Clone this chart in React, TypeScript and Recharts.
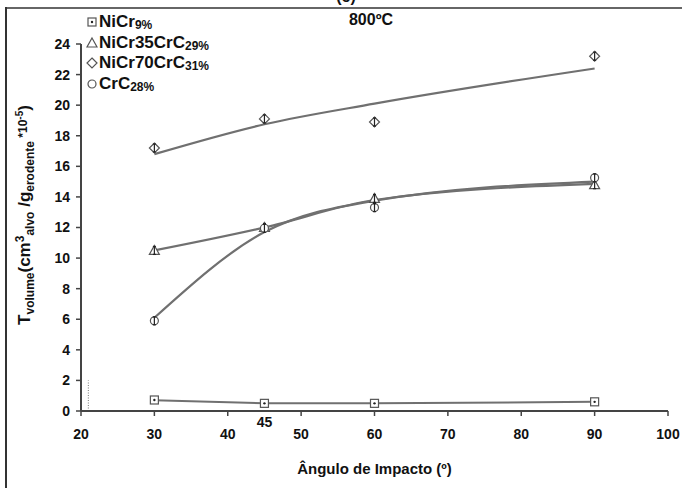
import React from 'react';
import { ComposedChart, Line, XAxis, YAxis, Legend, ReferenceLine } from 'recharts';

const angles = [30, 45, 60, 90];
const nicr9 = [0.72, 0.5, 0.5, 0.6];
const nicr9Fit = [0.7, 0.5, 0.5, 0.6];
const nicr35 = [10.5, 12.0, 13.9, 14.8];
const nicr35Fit = [10.5, 12.0, 13.8, 14.85];
const nicr70 = [17.2, 19.1, 18.9, 23.2];
const nicr70Fit = [16.8, 18.75, 20.1, 22.4];
const crc28 = [5.9, 11.95, 13.3, 15.25];
const crc28Fit = [6.1, 11.7, 13.75, 15.0];
const xTicks = [20, 30, 40, 45, 50, 60, 70, 80, 90, 100];
const yTicks = [0, 2, 4, 6, 8, 10, 12, 14, 16, 18, 20, 22, 24];
const legendItems = [
  { key: 'sq', main: 'NiCr', sub: '9%' },
  { key: 'tri', main: 'NiCr35CrC', sub: '29%' },
  { key: 'dia', main: 'NiCr70CrC', sub: '31%' },
  { key: 'cir', main: 'CrC', sub: '28%' },
];

const data = angles.map((a, i) => ({
  x: a,
  nicr9: nicr9[i],
  nicr9Fit: nicr9Fit[i],
  nicr35: nicr35[i],
  nicr35Fit: nicr35Fit[i],
  nicr70: nicr70[i],
  nicr70Fit: nicr70Fit[i],
  crc28: crc28[i],
  crc28Fit: crc28Fit[i],
}));

const FONT = '"Liberation Sans", Arial, sans-serif';
const LINE = '#707070';
const MARK = '#555';

function Marker({ kind, cx, cy, bar }: { kind: string; cx: number; cy: number; bar?: boolean }) {
  const s = 4;
  let shape: React.ReactNode = null;
  if (kind === 'sq') {
    shape = (
      <g>
        <rect x={cx - s} y={cy - s} width={2 * s} height={2 * s} fill="#fff" stroke={MARK} strokeWidth={1.2} />
        <circle cx={cx} cy={cy} r={1.2} fill="#222" />
      </g>
    );
  } else if (kind === 'tri') {
    shape = (
      <polygon
        points={`${cx},${cy - s - 1} ${cx + s + 1},${cy + s} ${cx - s - 1},${cy + s}`}
        fill="#fff"
        stroke={MARK}
        strokeWidth={1.2}
      />
    );
  } else if (kind === 'dia') {
    shape = (
      <polygon
        points={`${cx},${cy - s - 1} ${cx + s + 1},${cy} ${cx},${cy + s + 1} ${cx - s - 1},${cy}`}
        fill="#fff"
        stroke={MARK}
        strokeWidth={1.2}
      />
    );
  } else {
    shape = <circle cx={cx} cy={cy} r={s} fill="#fff" stroke={MARK} strokeWidth={1.2} />;
  }
  return (
    <g>
      {shape}
      {bar && kind !== 'sq' ? (
        <g stroke="#222" strokeWidth={1.2}>
          <line x1={cx} y1={cy - 4} x2={cx} y2={cy + 4} />
          <line x1={cx - 1.5} y1={cy - 4} x2={cx + 1.5} y2={cy - 4} />
          <line x1={cx - 1.5} y1={cy + 4} x2={cx + 1.5} y2={cy + 4} />
        </g>
      ) : null}
    </g>
  );
}

const dotFor = (kind: string) => (props: any) => {
  const { cx, cy, index } = props;
  if (cx == null || cy == null) return <g key={`${kind}-${index}`} />;
  return <Marker key={`${kind}-${index}`} kind={kind} cx={cx} cy={cy} bar />;
};

function XTick(props: any) {
  const { x, y, payload } = props;
  const v = payload.value;
  if (v === 45) {
    return (
      <text x={x} y={y + 3} textAnchor="middle" fontFamily={FONT} fontWeight="bold" fontSize={14} fill="#111">
        45
      </text>
    );
  }
  return (
    <g>
      <line x1={x} y1={y - 13} x2={x} y2={y - 8} stroke="#444" strokeWidth={1.5} />
      <text x={x} y={y + 15} textAnchor="middle" fontFamily={FONT} fontWeight="bold" fontSize={14} fill="#111">
        {v}
      </text>
    </g>
  );
}

function YLabel() {
  const cx = 30;
  const cy = 215;
  return (
    <text
      transform={`translate(${cx},${cy}) rotate(-90)`}
      textAnchor="middle"
      fontFamily={FONT}
      fontWeight="bold"
      fontSize={17}
      fill="#111"
    >
      <tspan>T</tspan>
      <tspan fontSize={12} dy={4}>volume</tspan>
      <tspan dy={-4}>(cm</tspan>
      <tspan fontSize={12} dy={-6}>3</tspan>
      <tspan fontSize={12} dy={10}>alvo</tspan>
      <tspan dy={-4}> /g</tspan>
      <tspan fontSize={12} dy={4}>erodente</tspan>
      <tspan fontSize={12} dy={-7}> *10</tspan>
      <tspan fontSize={10} dy={-4}>-5</tspan>
      <tspan dy={7}>)</tspan>
    </text>
  );
}

function LegendContent() {
  return (
    <div style={{ fontFamily: FONT, fontWeight: 'bold', color: '#111' }}>
      {legendItems.map((it) => (
        <div key={it.key} style={{ height: 20.5, display: 'flex', alignItems: 'center', whiteSpace: 'nowrap' }}>
          <svg width={12} height={14} style={{ marginRight: 1 }}>
            <Marker kind={it.key} cx={6} cy={7} />
          </svg>
          <span style={{ fontSize: 17 }}>{it.main}</span>
          <span style={{ fontSize: 12, position: 'relative', top: 3 }}>{it.sub}</span>
        </div>
      ))}
    </div>
  );
}

export default function App() {
  return (
    <div style={{ position: 'absolute', left: 0, top: 0, width: 682, height: 488, background: '#fff', overflow: 'hidden' }}>
      <div style={{ position: 'absolute', left: 5, top: 7, width: 677, height: 1.5, background: '#666' }} />
      <div style={{ position: 'absolute', left: 5, top: 7, width: 2, height: 481, background: '#333' }} />
      <svg width={682} height={40} style={{ position: 'absolute', left: 0, top: 0 }}>
        <text x={346} y={1.5} textAnchor="middle" fontFamily={FONT} fontWeight="bold" fontSize={16} fill="#111">
          (c)
        </text>
        <text x={371} y={25} textAnchor="middle" fontFamily={FONT} fontWeight="bold" fontSize={16} fill="#111">
          800ºC
        </text>
      </svg>
      <div style={{ position: 'absolute', left: 0, top: 0 }}>
        <ComposedChart width={682} height={488} data={data} margin={{ top: 44, right: 14, bottom: 37, left: 21 }}>
          <XAxis
            type="number"
            dataKey="x"
            domain={[20, 100]}
            ticks={xTicks}
            interval={0}
            height={40}
            axisLine={{ stroke: '#444', strokeWidth: 2 }}
            tickLine={false}
            tickSize={5}
            tickMargin={8}
            tick={<XTick />}
            label={{
              value: 'Ângulo de Impacto (º)',
              position: 'insideBottom',
              offset: -23,
              style: { fontFamily: FONT, fontWeight: 'bold', fontSize: 15, fill: '#111' },
            }}
          />
          <YAxis
            type="number"
            domain={[0, 24]}
            ticks={yTicks}
            interval={0}
            width={60}
            axisLine={{ stroke: '#444', strokeWidth: 2 }}
            tickLine={{ stroke: '#444', strokeWidth: 1.5 }}
            tickSize={5}
            tickMargin={6}
            tick={{ fontFamily: FONT, fontWeight: 'bold', fontSize: 14, fill: '#111' }}
            label={<YLabel />}
          />
          <ReferenceLine
            segment={[
              { x: 21, y: 0 },
              { x: 21, y: 2 },
            ]}
            stroke="#777"
            strokeDasharray="1 1.5"
            strokeWidth={1}
          />
          <Line type="linear" dataKey="nicr9Fit" stroke={LINE} strokeWidth={2} dot={false} isAnimationActive={false} legendType="none" />
          <Line type="monotone" dataKey="nicr35Fit" stroke={LINE} strokeWidth={2.2} dot={false} isAnimationActive={false} legendType="none" />
          <Line type="monotone" dataKey="crc28Fit" stroke={LINE} strokeWidth={2.2} dot={false} isAnimationActive={false} legendType="none" />
          <Line type="monotone" dataKey="nicr70Fit" stroke={LINE} strokeWidth={2.2} dot={false} isAnimationActive={false} legendType="none" />
          <Line dataKey="nicr9" stroke="none" dot={dotFor('sq')} activeDot={false} isAnimationActive={false} />
          <Line dataKey="nicr35" stroke="none" dot={dotFor('tri')} activeDot={false} isAnimationActive={false} />
          <Line dataKey="nicr70" stroke="none" dot={dotFor('dia')} activeDot={false} isAnimationActive={false} />
          <Line dataKey="crc28" stroke="none" dot={dotFor('cir')} activeDot={false} isAnimationActive={false} />
          <Legend
            layout="vertical"
            align="center"
            verticalAlign="middle"
            content={<LegendContent />}
            wrapperStyle={{ position: 'absolute', left: 86, top: 12, width: 'auto' }}
          />
        </ComposedChart>
      </div>
    </div>
  );
}
